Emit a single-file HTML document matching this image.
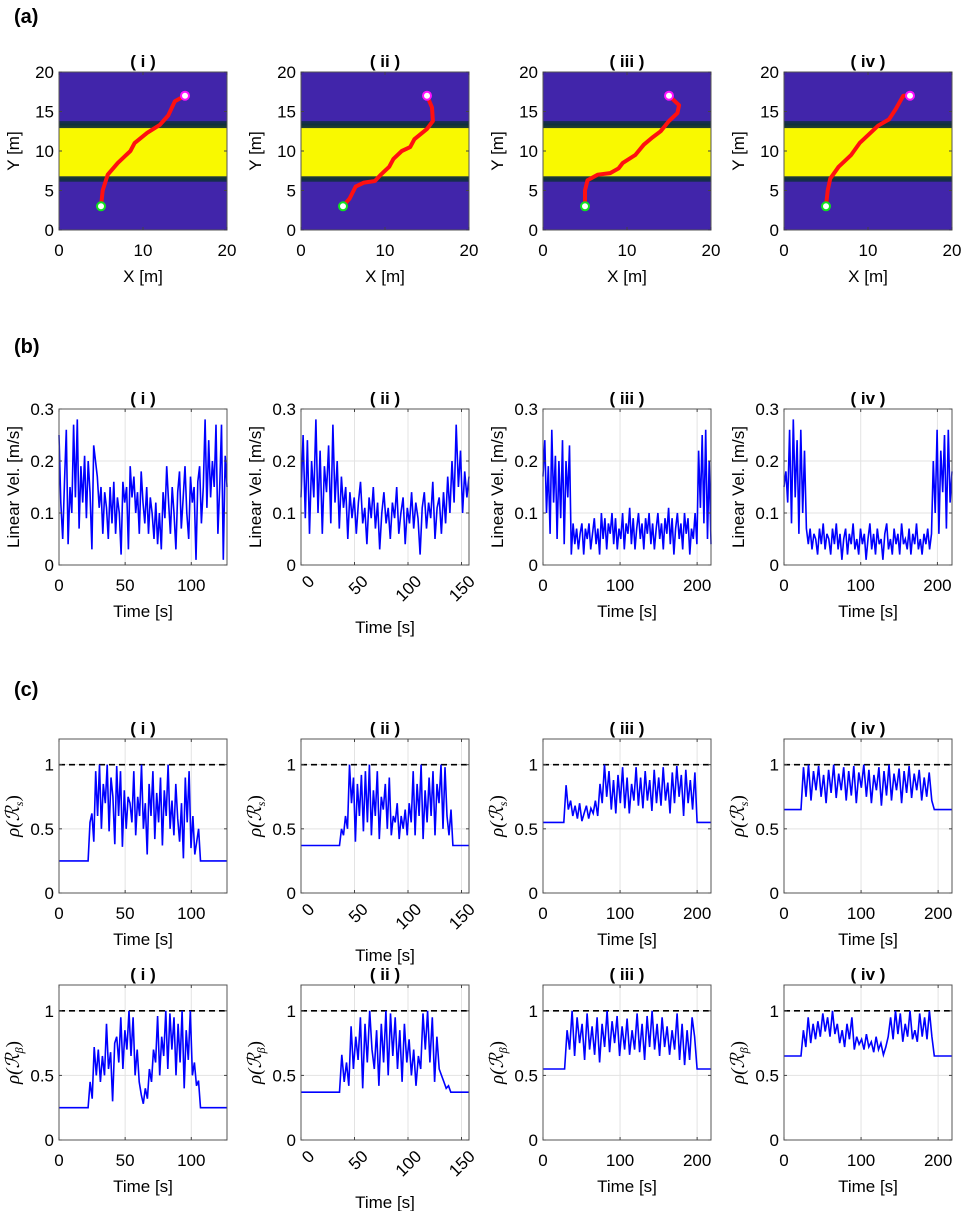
<!DOCTYPE html>
<html><head><meta charset="utf-8"><style>
html,body{margin:0;padding:0;background:#fff;}
svg{display:block;font-family:"Liberation Sans",Arial,sans-serif;}
</style></head><body>
<svg id="fig" width="962" height="1211" viewBox="0 0 962 1211" xmlns="http://www.w3.org/2000/svg">
<defs>
<linearGradient id="edgeTop" x1="0" y1="0" x2="0" y2="1"><stop offset="0" stop-color="#1c2b5e"/><stop offset="0.5" stop-color="#10303a"/><stop offset="1" stop-color="#24402e"/></linearGradient>
<linearGradient id="edgeBot" x1="0" y1="0" x2="0" y2="1"><stop offset="0" stop-color="#24402e"/><stop offset="0.5" stop-color="#10303a"/><stop offset="1" stop-color="#1c2b5e"/></linearGradient>
</defs>
<text x="14" y="23" font-size="20" font-weight="bold">(a)</text>
<text x="14" y="353" font-size="20" font-weight="bold">(b)</text>
<text x="14" y="696" font-size="20" font-weight="bold">(c)</text>
</svg>
<script>
// ---- data ----
const romanTitles = ["( i )", "( ii )", "( iii )", "( iv )"];
const pathX_i = [5,5.2,5.8,7,8.5,9,10.5,12,13,13.8,15];
const pathY_i = [3,5,7,8.5,10,11,12.3,13.3,14.5,16.3,17];
const pathX_ii = [5,5.8,6.5,7.5,8.8,9.5,10.5,11,12,13,13.5,15,15.7,15.6,15];
const pathY_ii = [3,4,5.5,6,6.2,7,8,9,10,10.5,11.5,12.8,13.8,15.5,17];
const pathX_iii = [5,5,5.3,6.5,8,9,9.5,11,12,13,14,15,16,16.2,15];
const pathY_iii = [3,5,6.3,7,7.2,7.8,8.5,9.5,10.8,11.7,12.5,13.8,14.8,15.8,17];
const pathX_iv = [5,5.2,5.5,6.5,8,9,10,11.2,12.5,13.3,14.2,15];
const pathY_iv = [3,5,6.5,8,9.5,11,12,13.2,14,15.3,17,17];
const bandYellow = [6.8, 12.9];
const bandEdge = [6.1, 13.8];

const timeMaxB = [127, 157, 218, 219];
const timeMaxC = [127, 157, 218, 218];
const xTicks = [[0,50,100],[0,50,100,150],[0,100,200],[0,100,200]];
const velTicks = [0,0.1,0.2,0.3];
const rhoTicks = [0,0.5,1];
const mapTicksX = [0,10,20];
const mapTicksY = [0,5,10,15,20];

const vel_i = [0.25,0.12,0.05,0.16,0.26,0.04,0.15,0.1,0.27,0.13,0.28,0.07,0.19,0.12,0.21,0.09,0.2,0.14,0.03,0.23,0.2,0.17,0.11,0.15,0.06,0.14,0.11,0.05,0.15,0.08,0.16,0.06,0.13,0.1,0.02,0.16,0.12,0.15,0.03,0.19,0.13,0.17,0.1,0.14,0.06,0.18,0.12,0.08,0.15,0.06,0.13,0.1,0.05,0.12,0.04,0.1,0.03,0.14,0.09,0.19,0.12,0.06,0.15,0.1,0.03,0.14,0.18,0.07,0.13,0.19,0.1,0.05,0.17,0.12,0.15,0.01,0.16,0.19,0.08,0.15,0.28,0.11,0.24,0.13,0.2,0.15,0.27,0.06,0.15,0.27,0.01,0.21,0.15];
const vel_ii = [0.13,0.25,0.09,0.24,0.06,0.2,0.13,0.28,0.1,0.22,0.06,0.19,0.14,0.23,0.08,0.27,0.12,0.2,0.07,0.17,0.11,0.15,0.05,0.14,0.09,0.13,0.06,0.12,0.16,0.08,0.11,0.04,0.13,0.09,0.15,0.07,0.12,0.03,0.1,0.14,0.08,0.11,0.05,0.12,0.09,0.15,0.06,0.1,0.13,0.04,0.11,0.08,0.14,0.07,0.12,0.09,0.02,0.11,0.14,0.07,0.12,0.09,0.16,0.05,0.11,0.13,0.06,0.14,0.08,0.17,0.1,0.2,0.12,0.27,0.15,0.22,0.1,0.18,0.13,0.17];
const vel_iii = [0.17,0.24,0.1,0.19,0.06,0.26,0.12,0.21,0.05,0.2,0.09,0.24,0.04,0.2,0.13,0.23,0.02,0.08,0.04,0.07,0.03,0.06,0.08,0.02,0.07,0.05,0.08,0.03,0.06,0.09,0.04,0.07,0.02,0.1,0.05,0.09,0.03,0.08,0.06,0.1,0.04,0.09,0.03,0.07,0.05,0.1,0.03,0.08,0.06,0.11,0.04,0.09,0.03,0.07,0.1,0.05,0.08,0.03,0.09,0.06,0.1,0.04,0.08,0.03,0.07,0.1,0.05,0.08,0.03,0.09,0.06,0.11,0.04,0.09,0.02,0.07,0.1,0.05,0.08,0.03,0.1,0.06,0.09,0.02,0.07,0.05,0.1,0.04,0.22,0.11,0.25,0.08,0.26,0.05,0.2,0.04];
const vel_iv = [0.15,0.18,0.12,0.26,0.08,0.28,0.13,0.24,0.06,0.26,0.1,0.22,0.07,0.04,0.07,0.03,0.06,0.05,0.02,0.07,0.04,0.08,0.03,0.06,0.05,0.02,0.07,0.04,0.08,0.03,0.06,0.01,0.05,0.07,0.02,0.06,0.04,0.08,0.03,0.05,0.02,0.07,0.04,0.06,0.01,0.05,0.08,0.03,0.06,0.02,0.07,0.04,0.05,0.01,0.06,0.08,0.03,0.05,0.02,0.07,0.04,0.06,0.02,0.08,0.04,0.05,0.03,0.07,0.02,0.06,0.04,0.08,0.03,0.05,0.02,0.06,0.04,0.07,0.03,0.06,0.2,0.1,0.26,0.06,0.22,0.14,0.25,0.07,0.26,0.12,0.18];

const rhoLevel = [0.25, 0.37, 0.55, 0.65];
const rsStart = [22, 36, 27, 22];
const rsEnd = [107, 142, 200, 195];
const rbStart = [22, 36, 28, 22];
const rbEnd = [107, 140, 200, 195];
const rs_i = [0.25,0.55,0.62,0.4,0.95,0.6,1.0,0.5,0.85,0.7,1.0,0.48,0.9,0.75,0.38,0.99,0.6,0.95,0.36,0.8,0.5,0.75,0.7,0.55,0.95,0.45,0.75,0.6,1.0,0.5,0.7,0.3,0.85,0.6,0.95,0.42,0.78,0.55,0.9,0.37,0.8,0.6,1.0,0.5,0.72,0.45,0.85,0.58,0.4,0.7,0.27,0.9,0.55,0.95,0.35,0.6,0.3,0.4,0.5,0.25];
const rs_ii = [0.37,0.5,0.45,0.6,0.5,1.0,0.7,0.9,0.4,0.85,0.6,0.92,0.48,0.95,0.55,1.0,0.45,0.8,0.6,0.95,0.42,0.75,0.65,0.85,0.5,0.9,0.45,0.6,0.55,0.7,0.42,0.6,0.5,0.65,0.45,0.7,0.55,0.95,0.45,0.85,0.6,1.0,0.42,0.8,0.55,0.9,0.6,0.95,0.45,0.85,0.7,1.0,0.5,0.98,0.6,0.45,0.65,0.37];
const rs_iii = [0.55,0.84,0.65,0.72,0.6,0.68,0.58,0.7,0.56,0.62,0.68,0.58,0.66,0.62,0.72,0.6,0.85,0.7,1.0,0.75,0.95,0.65,0.88,0.62,0.92,0.7,0.98,0.66,0.9,0.62,0.85,0.72,0.98,0.68,0.9,0.66,0.95,0.72,0.88,0.64,0.96,0.7,0.9,0.68,0.98,0.72,0.86,0.62,0.94,0.7,0.99,0.75,0.92,0.6,0.96,0.7,0.88,0.65,0.94,0.55];
const rs_iv = [0.65,0.98,0.75,1.0,0.72,0.95,0.8,0.99,0.75,0.92,0.7,0.96,0.78,1.0,0.74,0.93,0.8,0.98,0.72,0.95,0.76,0.99,0.7,0.94,0.82,1.0,0.75,0.96,0.7,0.92,0.8,0.98,0.68,0.95,0.76,1.0,0.72,0.93,0.8,0.97,0.7,0.95,0.78,0.99,0.74,0.93,0.8,0.96,0.72,0.9,0.75,0.94,0.72,0.65];
const rb_i = [0.25,0.45,0.32,0.72,0.5,0.7,0.45,0.65,0.5,0.9,0.55,0.68,0.3,0.75,0.8,0.6,0.95,0.55,0.85,0.7,1.0,0.65,0.95,0.5,0.7,0.45,0.35,0.28,0.4,0.32,0.55,0.45,0.7,0.6,0.96,0.5,0.8,0.65,1.0,0.55,0.98,0.7,0.95,0.5,0.9,0.6,1.0,0.4,0.85,0.62,1.0,0.5,0.6,0.42,0.46,0.25];
const rb_ii = [0.37,0.66,0.45,0.6,0.42,0.88,0.55,0.8,0.62,0.95,0.4,0.9,0.6,1.0,0.7,0.55,0.85,0.42,0.9,0.6,1.0,0.5,0.98,0.65,0.95,0.55,0.85,0.45,0.9,0.6,0.78,0.5,0.7,0.42,0.65,0.55,0.98,0.7,1.0,0.6,0.95,0.45,0.8,0.55,0.5,0.45,0.4,0.42,0.37];
const rb_iii = [0.55,0.85,0.7,1.0,0.65,0.95,0.75,0.9,0.62,0.98,0.7,0.88,0.66,0.95,0.6,0.9,0.72,1.0,0.68,0.92,0.75,0.96,0.65,0.88,0.7,0.94,0.66,0.85,0.7,0.98,0.68,0.9,0.62,0.96,0.72,1.0,0.7,0.9,0.65,0.95,0.72,0.88,0.66,0.85,0.7,0.98,0.62,0.9,0.58,0.85,0.62,0.95,0.8,0.55];
const rb_iv = [0.65,0.85,0.72,0.95,0.75,0.9,0.78,0.92,0.8,0.98,0.84,0.95,0.8,1.0,0.82,0.9,0.75,0.85,0.72,0.9,0.78,0.95,0.7,0.8,0.74,0.78,0.7,0.82,0.72,0.76,0.68,0.8,0.7,0.75,0.66,0.72,0.8,0.95,0.78,1.0,0.82,0.98,0.76,0.9,0.8,1.0,0.78,0.85,0.76,0.98,0.8,0.95,0.78,1.0,0.8,0.65];
const rhoRef = 1;

// ---- layout ----
const NS = "http://www.w3.org/2000/svg";
const svg = document.getElementById("fig");
const LEFTS = [59, 301, 543, 784];
const W = 168;
const FS = 17;
const suffix = ["i","ii","iii","iv"];
function mk(tag, attrs, parent) {
  const e = document.createElementNS(NS, tag);
  for (const k in attrs) e.setAttribute(k, attrs[k]);
  (parent || svg).appendChild(e);
  return e;
}
function scale(d0, d1, r0, r1) { return v => r0 + (v - d0) / (d1 - d0) * (r1 - r0); }

function axesGrid(g, left, top, bottom, xs, ys, xt, yt) {
  const right = left + W;
  xt.forEach(t => { const l = mk("line", {x1: xs(t), x2: xs(t), y1: top, y2: bottom, stroke: "#e3e3e3", "stroke-width": 1}, g);
    
     });
  yt.forEach(t => { const l = mk("line", {x1: left, x2: right, y1: ys(t), y2: ys(t), stroke: "#e3e3e3", "stroke-width": 1}, g);
    
     });
}
function axesDecor(g, left, top, bottom, xs, ys, xt, yt, yfmt, rotated, xlabel, ylab, title, id) {
  const right = left + W;
  const box = mk("rect", {x: left, y: top, width: W, height: bottom - top, fill: "none", stroke: "#555", "stroke-width": 1}, g);
  
  
  xt.forEach(t => {
    const x = xs(t);
    mk("line", {x1: x, x2: x, y1: bottom, y2: bottom - 3, stroke: "#444"}, g);
    mk("line", {x1: x, x2: x, y1: top, y2: top + 3, stroke: "#444"}, g);
    let tx;
    if (rotated) {
      tx = mk("text", {x: x + 6, y: bottom + 9, "font-size": FS, "text-anchor": "end", transform: `rotate(-45 ${x + 6} ${bottom + 9})`, "dominant-baseline": "hanging"}, g);
    } else {
      tx = mk("text", {x: x, y: bottom + 26, "font-size": FS, "text-anchor": "middle"}, g);
    }
    tx.textContent = String(t);
    
    
  });
  yt.forEach(t => {
    const y = ys(t);
    mk("line", {x1: left, x2: left + 3, y1: y, y2: y, stroke: "#444"}, g);
    mk("line", {x1: right, x2: right - 3, y1: y, y2: y, stroke: "#444"}, g);
    const tx = mk("text", {x: left - 5, y: y + 6, "font-size": FS, "text-anchor": "end"}, g);
    tx.textContent = yfmt(t);
    
    
  });
  const xl = mk("text", {x: left + W / 2, y: bottom + (rotated ? 68 : 52), "font-size": FS, "text-anchor": "middle"}, g);
  xl.textContent = xlabel;
  
  
  const cy = (top + bottom) / 2, cx = left - 46;
  const yl = mk("text", {x: cx, y: cy + 6, "font-size": FS, "text-anchor": "middle", transform: `rotate(-90 ${cx} ${cy})`}, g);
  
  
  ylab(yl);
  const tt = mk("text", {x: left + W / 2, y: top - 5, "font-size": FS, "font-weight": "bold", "text-anchor": "middle"}, g);
  tt.textContent = title;
  
  
}
const plainLab = s => (n => { n.textContent = s; });
const rhoLab = sub => (n => {
  n.setAttribute("font-family", '"Liberation Serif","DejaVu Serif",serif');
  n.setAttribute("font-size", 19);
  const a = mk("tspan", {"font-style": "italic"}, n); a.textContent = "ρ";
  const b = mk("tspan", {"font-style": "italic"}, n); b.textContent = "(ℛ";
  const c = mk("tspan", {"font-size": 12, dy: 4, "font-style": "italic"}, n); c.textContent = sub;
  const d = mk("tspan", {dy: -4}, n); d.textContent = ")";
});

// ---- Row A: maps ----
const pathsX = [pathX_i, pathX_ii, pathX_iii, pathX_iv];
const pathsY = [pathY_i, pathY_ii, pathY_iii, pathY_iv];
for (let p = 0; p < 4; p++) {
  const left = LEFTS[p], top = 72, bottom = 230;
  const g = mk("g", {}, svg);
  
  
  const xs = scale(0, 20, left, left + W), ys = scale(0, 20, bottom, top);
  const bg = mk("rect", {x: left, y: top, width: W, height: bottom - top, fill: "#4125aa"}, g);
  
  
  const e1 = mk("rect", {x: left, y: ys(bandEdge[1]), width: W, height: ys(bandYellow[1]) - ys(bandEdge[1]), fill: "url(#edgeTop)"}, g);
  
  
  const e2 = mk("rect", {x: left, y: ys(bandYellow[0]), width: W, height: ys(bandEdge[0]) - ys(bandYellow[0]), fill: "url(#edgeBot)"}, g);
  
  
  const yb = mk("rect", {x: left, y: ys(bandYellow[1]), width: W, height: ys(bandYellow[0]) - ys(bandYellow[1]), fill: "#f9f900"}, g);
  
  
  const pts = pathsX[p].map((x, i) => xs(x).toFixed(1) + "," + ys(pathsY[p][i]).toFixed(1)).join(" ");
  const pl = mk("polyline", {points: pts, fill: "none", stroke: "#ff1010", "stroke-width": 4, "stroke-linejoin": "round", "stroke-linecap": "round"}, g);
  
  
  const s = mk("circle", {cx: xs(pathsX[p][0]), cy: ys(pathsY[p][0]), r: 4, fill: "#fff", stroke: "#10e020", "stroke-width": 2}, g);
  
  
  const goalX = 15, goalY = 17;
  const e = mk("circle", {cx: xs(goalX), cy: ys(goalY), r: 4, fill: "#fff", stroke: "#ff10ff", "stroke-width": 2}, g);
  
  
  axesDecor(g, left, top, bottom, xs, ys, mapTicksX, mapTicksY, v => String(v), false, "X [m]", plainLab("Y [m]"), romanTitles[p], "a-" + suffix[p]);
}

// ---- Row B: velocities ----
const vels = [vel_i, vel_ii, vel_iii, vel_iv];
for (let p = 0; p < 4; p++) {
  const left = LEFTS[p], top = 409, bottom = 565;
  const g = mk("g", {}, svg);
  
  
  const xs = scale(0, timeMaxB[p], left, left + W), ys = scale(0, 0.3, bottom, top);
  axesGrid(g, left, top, bottom, xs, ys, xTicks[p], velTicks);
  const v = vels[p], dt = timeMaxB[p] / (v.length - 1);
  const pts = v.map((y, i) => xs(i * dt).toFixed(1) + "," + ys(y).toFixed(1)).join(" ");
  const pl = mk("polyline", {points: pts, fill: "none", stroke: "#0000ff", "stroke-width": 1.6}, g);
  
  
  axesDecor(g, left, top, bottom, xs, ys, xTicks[p], velTicks, t => t === 0 ? "0" : t.toFixed(1), p === 1, "Time [s]", plainLab("Linear Vel. [m/s]"), romanTitles[p], "b-" + suffix[p]);
}

// ---- Rows C: rho ----
const rsVals = [rs_i, rs_ii, rs_iii, rs_iv];
const rbVals = [rb_i, rb_ii, rb_iii, rb_iv];
function rhoRow(top, bottom, vals, starts, ends, sub, tag) {
  for (let p = 0; p < 4; p++) {
    const left = LEFTS[p];
    const g = mk("g", {}, svg);
    
    
    const xs = scale(0, timeMaxC[p], left, left + W), ys = scale(0, 1.2, bottom, top);
    axesGrid(g, left, top, bottom, xs, ys, xTicks[p], rhoTicks);
    const ref = mk("line", {x1: left, x2: left + W, y1: ys(rhoRef), y2: ys(rhoRef), stroke: "#000", "stroke-width": 1.6, "stroke-dasharray": "6,4"}, g);
    
    
    const v = vals[p], lv = rhoLevel[p];
    const dt = (ends[p] - starts[p]) / (v.length - 1);
    const arr = [[0, lv], [starts[p], lv]];
    v.forEach((y, i) => arr.push([starts[p] + i * dt, y]));
    arr.push([ends[p], lv], [timeMaxC[p], lv]);
    const pts = arr.map(a => xs(a[0]).toFixed(1) + "," + ys(a[1]).toFixed(1)).join(" ");
    const pl = mk("polyline", {points: pts, fill: "none", stroke: "#0000ff", "stroke-width": 1.6}, g);
    
    
    axesDecor(g, left, top, bottom, xs, ys, xTicks[p], rhoTicks, t => String(t), p === 1, "Time [s]", rhoLab(sub), romanTitles[p], "c-" + tag + "-" + suffix[p]);
  }
}
rhoRow(739, 893, rsVals, rsStart, rsEnd, "s", "s");
rhoRow(985, 1140, rbVals, rbStart, rbEnd, "β", "beta");
</script>
</body></html>
